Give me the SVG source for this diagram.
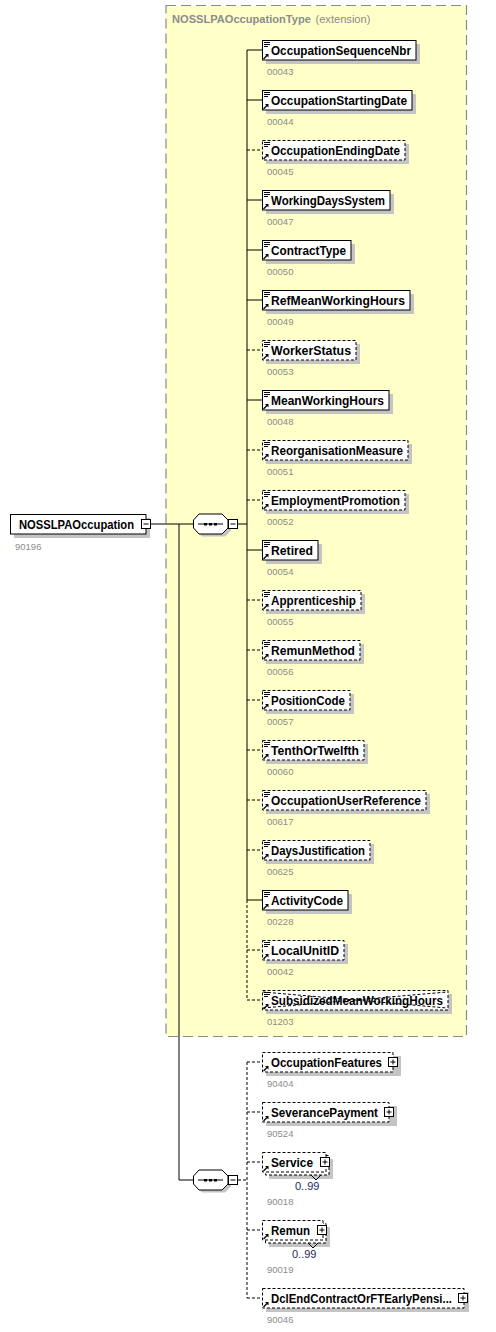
<svg xmlns="http://www.w3.org/2000/svg" xmlns:xlink="http://www.w3.org/1999/xlink" width="496" height="1332" viewBox="0 0 496 1332">
<style>
.bg{fill:#ffffff}
.ext{fill:#ffffc8;stroke:#8a8a8a;stroke-width:1.2;stroke-dasharray:10,5}
.sh{fill:#c4c4c4}
.box{fill:#ffffff;stroke:#000;stroke-width:1}
.opt{fill:#ffffff;stroke:#000;stroke-width:1;stroke-dasharray:3,2}
.ln{stroke:#000;stroke-width:1;fill:none}
.dl{stroke:#000;stroke-width:1;fill:none;stroke-dasharray:3,2}
.nm{font-family:"Liberation Sans",Arial,sans-serif;font-weight:bold;font-size:12.3px;fill:#000}
.cd{font-family:"Liberation Sans",Arial,sans-serif;font-size:9.5px;fill:#8c8c8c}
.oc{font-family:"Liberation Sans",Arial,sans-serif;font-size:11px;fill:#1a2a60}
.tt{font-family:"Liberation Sans",Arial,sans-serif;font-size:11.1px;fill:#8c8c8c}
</style>
<defs>
<g id="ref"><path d="M0.5,8 L4,4.5" stroke="#000" stroke-width="1.2" fill="none"/><path d="M2,3 H5.5 V6.5 Z" fill="#000"/></g>
<g id="simp"><rect x="0" y="0" width="6" height="1" fill="#000"/><rect x="0" y="2" width="6" height="1" fill="#000"/><rect x="0" y="4" width="4" height="1" fill="#000"/></g>
<g id="minus"><rect x="0.5" y="0.5" width="9" height="9" fill="#fff" stroke="#000"/><path d="M2.5,5 H7.5" stroke="#000"/></g>
<g id="plus"><rect x="0.5" y="0.5" width="9" height="9" fill="#fff" stroke="#000"/><path d="M2.5,5 H7.5 M5,2.5 V7.5" stroke="#000"/></g>
<g id="seq"><path d="M9,3 H32 L38,9 V17 L32,23 H9 L3,17 V9 Z" class="sh"/><path d="M6,0.5 H29 L35,6.5 V14.5 L29,20.5 H6 L0.5,14.5 V6.5 Z" fill="#fff" stroke="#000"/><path d="M5,10.5 H30" stroke="#000"/><rect x="11" y="9.5" width="3" height="2.5" fill="#000"/><rect x="16" y="9.5" width="3" height="2.5" fill="#000"/><rect x="21" y="9.5" width="3" height="2.5" fill="#000"/></g>
</defs>
<rect class="bg" x="0" y="0" width="496" height="1332"/>
<g id="extension">
<rect class="ext" x="166" y="5.5" width="300.5" height="1031"/>
<text x="172" y="23" class="tt" font-weight="bold">NOSSLPAOccupationType</text>
<text x="315.5" y="23" class="tt">(extension)</text>
</g>
<g id="connectors">
<path class="ln" d="M151,524 H193 M179,524 V1180 H193 M238,524 H247 M247,50 V900"/>
<path class="dl" d="M247,900 V1000 M238,1180 H247 M247,1062 V1298"/>
<path class="ln" d="M247,50 H262 M247,100 H262 M247,200 H262 M247,250 H262 M247,300 H262 M247,400 H262 M247,550 H262 M247,900 H262"/>
<path class="dl" d="M247,150 H262 M247,350 H262 M247,450 H262 M247,500 H262 M247,600 H262 M247,650 H262 M247,700 H262 M247,750 H262 M247,800 H262 M247,850 H262 M247,950 H262 M247,1000 H262"/>
<path class="dl" d="M247,1062 H262 M247,1112 H262 M247,1162 H262 M247,1230 H262 M247,1298 H262"/>
</g>
<g id="root">
<rect class="sh" x="14" y="518" width="136" height="20"/>
<rect class="box" x="10.5" y="514.5" width="135.5" height="19.5"/>
<text x="19" y="528.5" class="nm" textLength="115" lengthAdjust="spacingAndGlyphs">NOSSLPAOccupation</text>
<use xlink:href="#minus" x="141" y="519"/>
<text x="15" y="550" class="cd">90196</text>
</g>
<g id="seq1"><use xlink:href="#seq" x="193" y="513.5"/><use xlink:href="#minus" x="228" y="519"/></g>
<g id="seq2"><use xlink:href="#seq" x="193" y="1169.5"/><use xlink:href="#minus" x="228" y="1175"/></g>

<g id="e0"><rect class="sh" x="266" y="44" width="154" height="20"/><rect class="box" x="262.5" y="40.5" width="153.5" height="19.5"/><use xlink:href="#simp" x="264" y="42"/><use xlink:href="#ref" x="263" y="51"/><text x="271" y="54.5" class="nm" textLength="140" lengthAdjust="spacingAndGlyphs">OccupationSequenceNbr</text><text x="267" y="75" class="cd">00043</text></g>
<g id="e1"><rect class="sh" x="266" y="94" width="150" height="20"/><rect class="box" x="262.5" y="90.5" width="149.5" height="19.5"/><use xlink:href="#simp" x="264" y="92"/><use xlink:href="#ref" x="263" y="101"/><text x="271" y="104.5" class="nm" textLength="136" lengthAdjust="spacingAndGlyphs">OccupationStartingDate</text><text x="267" y="125" class="cd">00044</text></g>
<g id="e2"><rect class="sh" x="266" y="144" width="143" height="20"/><rect class="opt" x="262.5" y="140.5" width="142.5" height="19.5"/><use xlink:href="#simp" x="264" y="142"/><use xlink:href="#ref" x="263" y="151"/><text x="271" y="154.5" class="nm" textLength="129" lengthAdjust="spacingAndGlyphs">OccupationEndingDate</text><text x="267" y="175" class="cd">00045</text></g>
<g id="e3"><rect class="sh" x="266" y="194" width="128" height="20"/><rect class="box" x="262.5" y="190.5" width="127.5" height="19.5"/><use xlink:href="#simp" x="264" y="192"/><use xlink:href="#ref" x="263" y="201"/><text x="271" y="204.5" class="nm" textLength="114" lengthAdjust="spacingAndGlyphs">WorkingDaysSystem</text><text x="267" y="225" class="cd">00047</text></g>
<g id="e4"><rect class="sh" x="266" y="244" width="89" height="20"/><rect class="box" x="262.5" y="240.5" width="88.5" height="19.5"/><use xlink:href="#simp" x="264" y="242"/><use xlink:href="#ref" x="263" y="251"/><text x="271" y="254.5" class="nm" textLength="75" lengthAdjust="spacingAndGlyphs">ContractType</text><text x="267" y="275" class="cd">00050</text></g>
<g id="e5"><rect class="sh" x="266" y="294" width="148" height="20"/><rect class="box" x="262.5" y="290.5" width="147.5" height="19.5"/><use xlink:href="#simp" x="264" y="292"/><use xlink:href="#ref" x="263" y="301"/><text x="271" y="304.5" class="nm" textLength="134" lengthAdjust="spacingAndGlyphs">RefMeanWorkingHours</text><text x="267" y="325" class="cd">00049</text></g>
<g id="e6"><rect class="sh" x="266" y="344" width="94" height="20"/><rect class="opt" x="262.5" y="340.5" width="93.5" height="19.5"/><use xlink:href="#simp" x="264" y="342"/><use xlink:href="#ref" x="263" y="351"/><text x="271" y="354.5" class="nm" textLength="80" lengthAdjust="spacingAndGlyphs">WorkerStatus</text><text x="267" y="375" class="cd">00053</text></g>
<g id="e7"><rect class="sh" x="266" y="394" width="127" height="20"/><rect class="box" x="262.5" y="390.5" width="126.5" height="19.5"/><use xlink:href="#simp" x="264" y="392"/><use xlink:href="#ref" x="263" y="401"/><text x="271" y="404.5" class="nm" textLength="113" lengthAdjust="spacingAndGlyphs">MeanWorkingHours</text><text x="267" y="425" class="cd">00048</text></g>
<g id="e8"><rect class="sh" x="266" y="444" width="146" height="20"/><rect class="opt" x="262.5" y="440.5" width="145.5" height="19.5"/><use xlink:href="#simp" x="264" y="442"/><use xlink:href="#ref" x="263" y="451"/><text x="271" y="454.5" class="nm" textLength="132" lengthAdjust="spacingAndGlyphs">ReorganisationMeasure</text><text x="267" y="475" class="cd">00051</text></g>
<g id="e9"><rect class="sh" x="266" y="494" width="143" height="20"/><rect class="opt" x="262.5" y="490.5" width="142.5" height="19.5"/><use xlink:href="#simp" x="264" y="492"/><use xlink:href="#ref" x="263" y="501"/><text x="271" y="504.5" class="nm" textLength="129" lengthAdjust="spacingAndGlyphs">EmploymentPromotion</text><text x="267" y="525" class="cd">00052</text></g>
<g id="e10"><rect class="sh" x="266" y="544" width="56" height="20"/><rect class="box" x="262.5" y="540.5" width="55.5" height="19.5"/><use xlink:href="#simp" x="264" y="542"/><use xlink:href="#ref" x="263" y="551"/><text x="271" y="554.5" class="nm" textLength="42" lengthAdjust="spacingAndGlyphs">Retired</text><text x="267" y="575" class="cd">00054</text></g>
<g id="e11"><rect class="sh" x="266" y="594" width="99" height="20"/><rect class="opt" x="262.5" y="590.5" width="98.5" height="19.5"/><use xlink:href="#simp" x="264" y="592"/><use xlink:href="#ref" x="263" y="601"/><text x="271" y="604.5" class="nm" textLength="85" lengthAdjust="spacingAndGlyphs">Apprenticeship</text><text x="267" y="625" class="cd">00055</text></g>
<g id="e12"><rect class="sh" x="266" y="644" width="98" height="20"/><rect class="opt" x="262.5" y="640.5" width="97.5" height="19.5"/><use xlink:href="#simp" x="264" y="642"/><use xlink:href="#ref" x="263" y="651"/><text x="271" y="654.5" class="nm" textLength="84" lengthAdjust="spacingAndGlyphs">RemunMethod</text><text x="267" y="675" class="cd">00056</text></g>
<g id="e13"><rect class="sh" x="266" y="694" width="88" height="20"/><rect class="opt" x="262.5" y="690.5" width="87.5" height="19.5"/><use xlink:href="#simp" x="264" y="692"/><use xlink:href="#ref" x="263" y="701"/><text x="271" y="704.5" class="nm" textLength="74" lengthAdjust="spacingAndGlyphs">PositionCode</text><text x="267" y="725" class="cd">00057</text></g>
<g id="e14"><rect class="sh" x="266" y="744" width="102" height="20"/><rect class="opt" x="262.5" y="740.5" width="101.5" height="19.5"/><use xlink:href="#simp" x="264" y="742"/><use xlink:href="#ref" x="263" y="751"/><text x="271" y="754.5" class="nm" textLength="88" lengthAdjust="spacingAndGlyphs">TenthOrTwelfth</text><text x="267" y="775" class="cd">00060</text></g>
<g id="e15"><rect class="sh" x="266" y="794" width="164" height="20"/><rect class="opt" x="262.5" y="790.5" width="163.5" height="19.5"/><use xlink:href="#simp" x="264" y="792"/><use xlink:href="#ref" x="263" y="801"/><text x="271" y="804.5" class="nm" textLength="150" lengthAdjust="spacingAndGlyphs">OccupationUserReference</text><text x="267" y="825" class="cd">00617</text></g>
<g id="e16"><rect class="sh" x="266" y="844" width="108" height="20"/><rect class="opt" x="262.5" y="840.5" width="107.5" height="19.5"/><use xlink:href="#simp" x="264" y="842"/><use xlink:href="#ref" x="263" y="851"/><text x="271" y="854.5" class="nm" textLength="94" lengthAdjust="spacingAndGlyphs">DaysJustification</text><text x="267" y="875" class="cd">00625</text></g>
<g id="e17"><rect class="sh" x="266" y="894" width="86" height="20"/><rect class="box" x="262.5" y="890.5" width="85.5" height="19.5"/><use xlink:href="#simp" x="264" y="892"/><use xlink:href="#ref" x="263" y="901"/><text x="271" y="904.5" class="nm" textLength="72" lengthAdjust="spacingAndGlyphs">ActivityCode</text><text x="267" y="925" class="cd">00228</text></g>
<g id="e18"><rect class="sh" x="266" y="944" width="82" height="20"/><rect class="opt" x="262.5" y="940.5" width="81.5" height="19.5"/><use xlink:href="#simp" x="264" y="942"/><use xlink:href="#ref" x="263" y="951"/><text x="271" y="954.5" class="nm" textLength="68" lengthAdjust="spacingAndGlyphs">LocalUnitID</text><text x="267" y="975" class="cd">00042</text></g>
<g id="e19"><rect class="sh" x="266" y="994" width="186" height="20"/><rect class="opt" x="262.5" y="990.5" width="185.5" height="19.5"/><use xlink:href="#simp" x="264" y="992"/><use xlink:href="#ref" x="263" y="1001"/><text x="271" y="1004.5" class="nm" textLength="172" lengthAdjust="spacingAndGlyphs">SubsidizedMeanWorkingHours</text><path class="dl" d="M263,992 L447,1008 M263,1008 L447,992"/><text x="267" y="1025" class="cd">01203</text></g>

<g id="b0"><rect class="sh" x="266" y="1056" width="135" height="20"/><rect class="opt" x="262.5" y="1052.5" width="130.5" height="19.5"/><use xlink:href="#ref" x="263" y="1063"/><text x="271" y="1066.5" class="nm" textLength="111" lengthAdjust="spacingAndGlyphs">OccupationFeatures</text><use xlink:href="#plus" x="388" y="1057"/><text x="267" y="1087" class="cd">90404</text></g>
<g id="b1"><rect class="sh" x="266" y="1106" width="131" height="20"/><rect class="opt" x="262.5" y="1102.5" width="126.5" height="19.5"/><use xlink:href="#ref" x="263" y="1113"/><text x="271" y="1116.5" class="nm" textLength="107" lengthAdjust="spacingAndGlyphs">SeverancePayment</text><use xlink:href="#plus" x="384" y="1107"/><text x="267" y="1137" class="cd">90524</text></g>
<g id="b2"><rect class="sh" x="269" y="1159" width="64" height="20"/><rect class="opt" x="265.5" y="1155.5" width="63.5" height="19.5"/><rect class="opt" x="262.5" y="1152.5" width="63.5" height="19.5"/><path class="ln" d="M311,1175 L316,1180 L321,1175" fill="#fff"/><use xlink:href="#ref" x="263" y="1163"/><text x="271" y="1166.5" class="nm" textLength="42" lengthAdjust="spacingAndGlyphs">Service</text><use xlink:href="#plus" x="320" y="1157"/><text x="295" y="1190" class="oc">0..99</text><text x="267" y="1205" class="cd">90018</text></g>
<g id="b3"><rect class="sh" x="269" y="1227" width="61" height="20"/><rect class="opt" x="265.5" y="1223.5" width="60.5" height="19.5"/><rect class="opt" x="262.5" y="1220.5" width="60.5" height="19.5"/><path class="ln" d="M308,1243 L313,1248 L318,1243" fill="#fff"/><use xlink:href="#ref" x="263" y="1231"/><text x="271" y="1234.5" class="nm" textLength="39" lengthAdjust="spacingAndGlyphs">Remun</text><use xlink:href="#plus" x="317" y="1225"/><text x="292" y="1258" class="oc">0..99</text><text x="267" y="1273" class="cd">90019</text></g>
<g id="b4"><rect class="sh" x="266" y="1292" width="203" height="20"/><rect class="opt" x="262.5" y="1288.5" width="201.5" height="19.5"/><use xlink:href="#ref" x="263" y="1299"/><text x="271" y="1302.5" class="nm" textLength="181" lengthAdjust="spacingAndGlyphs">DclEndContractOrFTEarlyPensi...</text><use xlink:href="#plus" x="458" y="1293"/><text x="267" y="1323" class="cd">90046</text></g>
</svg>
